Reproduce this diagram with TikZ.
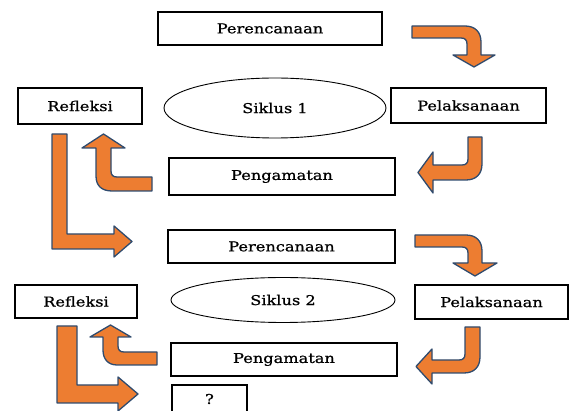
\documentclass[tikz,border=0pt]{standalone}
\usepackage{fontspec}
\setmainfont{DejaVu Serif}[FakeStretch=1.2, FakeBold=0.8]
\usetikzlibrary{shapes.geometric}
\definecolor{arrowfill}{HTML}{ED7D31}
\definecolor{arrowline}{HTML}{2F4B6E}
\tikzset{block/.style = {draw, line width=1.2pt, minimum height=34pt, inner sep=0pt, align=center, font=\fontsize{13.5}{15}\selectfont}}
\tikzset{cycle/.style = {draw, ellipse, line width=0.9pt, inner sep=0pt, font=\fontsize{13.5}{15}\selectfont}}
\tikzset{barrow/.style = {draw=arrowline, fill=arrowfill, line width=1.3pt, line join=round}}

\begin{document}
\begin{tikzpicture}[x=1pt, y=-1pt]
			\useasboundingbox (0,0) rectangle (571,411);
			% Siklus 1
			\node [block, minimum width=224pt, minimum height=33pt] (per1) at (270,28.5) {Perencanaan};
			\node [block, minimum width=155pt, minimum height=35pt] (pel1) at (468.5,105.5) {Pelaksanaan};
			\node [block, minimum width=124pt, minimum height=36pt] (ref1) at (80,106) {Refleksi};
			\node [cycle, minimum width=222pt, minimum height=60pt] (sik1) at (275,108) {Siklus 1};
			\node [block, minimum width=226pt, minimum height=37pt] (peng1) at (282,176.5) {Pengamatan};
			% arrows of Siklus 1
			\draw[barrow] (412,26) -- (465,26) .. controls (475,26) and (481,32) .. (481,42) -- (481,55) -- (495,55) -- (474,67) -- (453,55) -- (467,55) -- (467,44) .. controls (467,40) and (465,38) .. (461,38) -- (412,38) -- cycle;
			\draw[barrow] (468,137) -- (482,137) -- (482,164) .. controls (482,174) and (476,180) .. (466,180) -- (433,180) -- (433,193) -- (418,172.5) -- (433,152) -- (433,165) -- (462,165) .. controls (466,165) and (468,163) .. (468,159) -- cycle;
			\draw[barrow] (152,177) -- (117,177) .. controls (113,177) and (111,175) .. (111,171) -- (111,148) -- (125,148) -- (103.5,134) -- (82,148) -- (96,148) -- (96,176) .. controls (96,186) and (102,191) .. (112,191) -- (152,191) -- cycle;
			\draw[barrow] (52,134) -- (67,134) -- (67,234) -- (114,234) -- (114,226) -- (132,241.5) -- (114,257) -- (114,249) -- (52,249) -- cycle;
			% Siklus 2
			\node [block, minimum width=227pt, minimum height=33pt] (per2) at (281.5,246.5) {Perencanaan};
			\node [block, minimum width=122pt, minimum height=33pt] (ref2) at (76,301.5) {Refleksi};
			\node [cycle, minimum width=224pt, minimum height=45pt] (sik2) at (283,300) {Siklus 2};
			\node [block, minimum width=153pt, minimum height=34pt] (pel2) at (491.5,302) {Pelaksanaan};
			\node [block, minimum width=226pt, minimum height=33pt] (peng2) at (284,359.5) {Pengamatan};
			\node [block, minimum width=75pt, minimum height=28pt] (next) at (209.5,399) {?};
			% arrows of Siklus 2
			\draw[barrow] (415,235) -- (466,235) .. controls (476,235) and (482,241) .. (482,251) -- (482,263) -- (497,263) -- (475,276) -- (453,263) -- (468,263) -- (468,253) .. controls (468,249) and (466,247) .. (462,247) -- (415,247) -- cycle;
			\draw[barrow] (465,327) -- (480,327) -- (480,357) .. controls (480,367) and (474,373) .. (464,373) -- (432,373) -- (432,384) -- (416,366.5) -- (432,349) -- (432,360) -- (459,360) .. controls (463,360) and (465,358) .. (465,354) -- cycle;
			\draw[barrow] (157,352) -- (124,352) .. controls (120,352) and (118,350) .. (118,346) -- (118,337) -- (131,337) -- (110.5,325) -- (90,337) -- (103,337) -- (103,350) .. controls (103,359) and (108,365) .. (117,365) -- (157,365) -- cycle;
			\draw[barrow] (57,326) -- (77,326) -- (77,385) -- (118,385) -- (118,377) -- (138,394) -- (118,411) -- (118,403) -- (57,403) -- cycle;
\end{tikzpicture}
\end{document}
